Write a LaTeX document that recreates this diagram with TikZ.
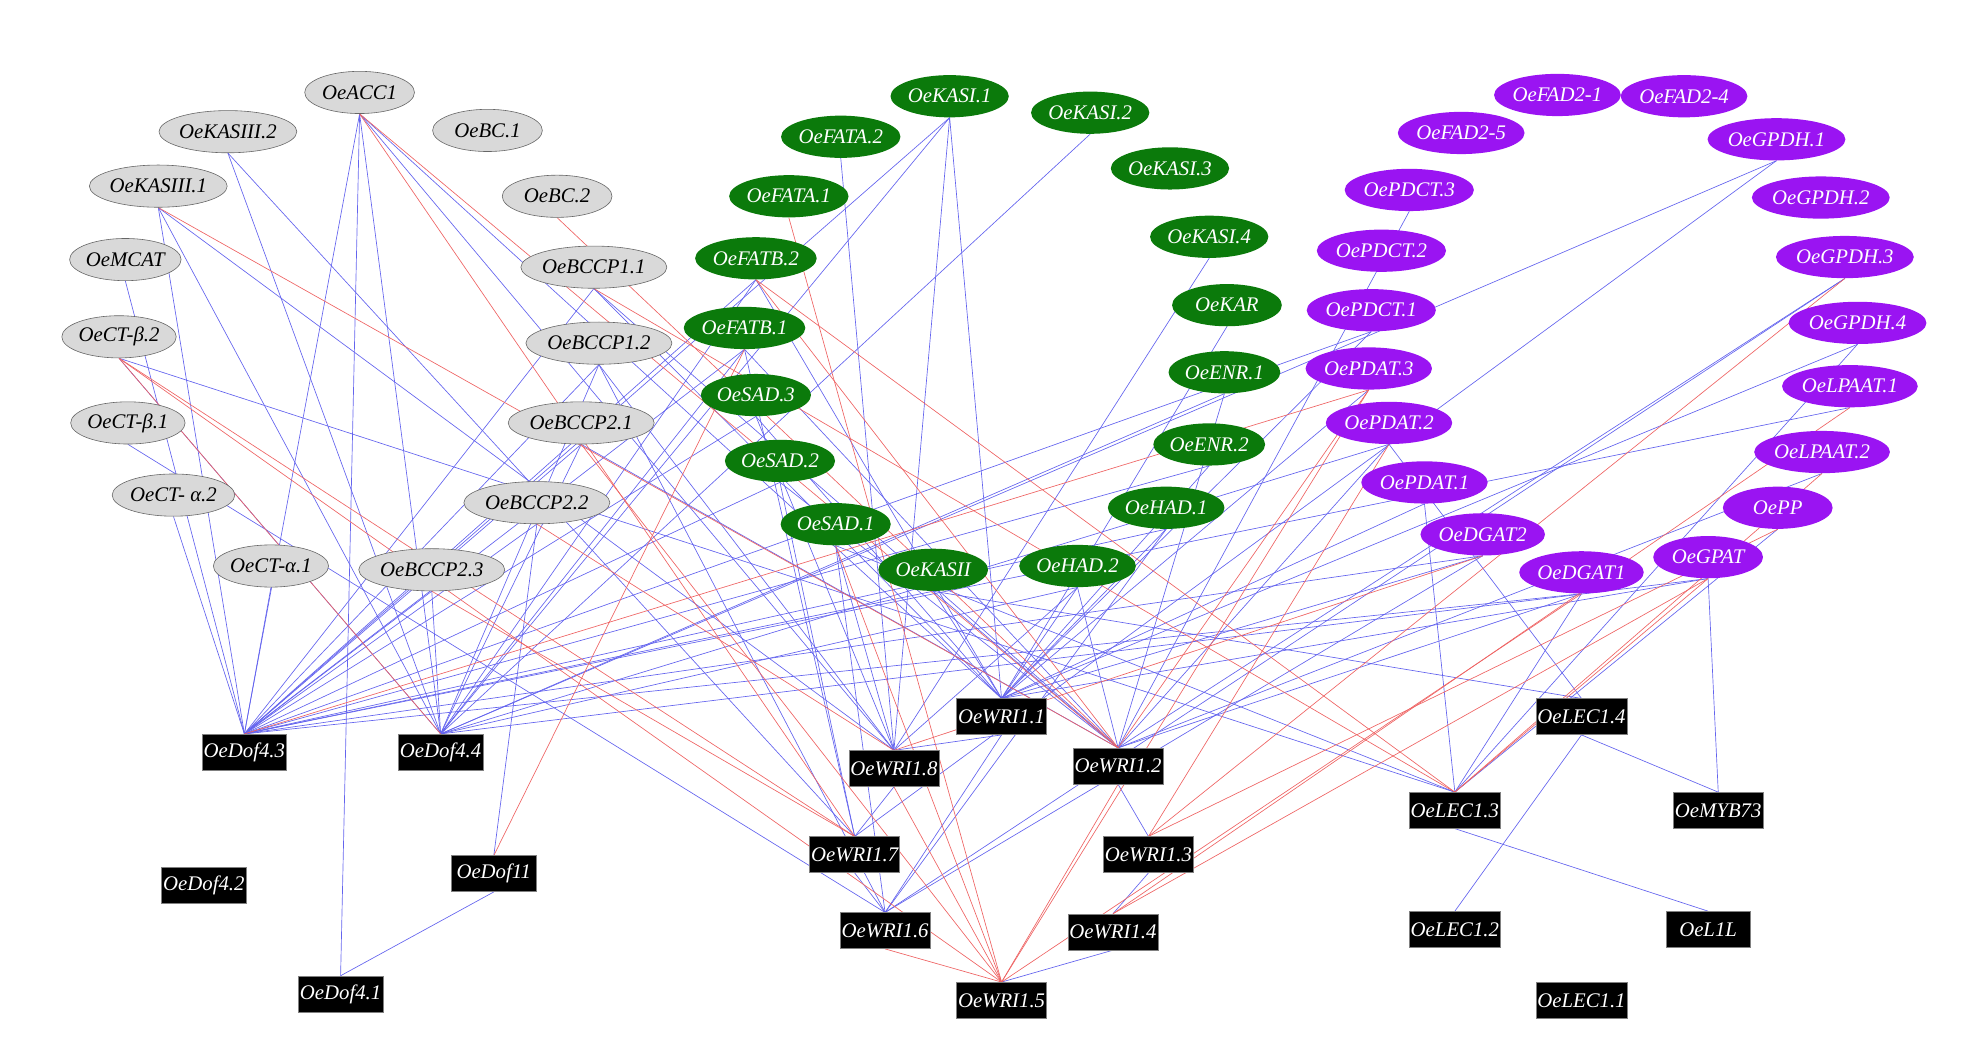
\documentclass[tikz,border=0pt]{standalone}
\usepackage{fontspec}
\setmainfont{Liberation Serif}
\usetikzlibrary{shapes.geometric,backgrounds}
\definecolor{gr}{HTML}{D9D9D9}
\definecolor{gn}{HTML}{0B7A0B}
\definecolor{pu}{HTML}{9A14F2}
\definecolor{eb}{HTML}{6464EE}
\definecolor{er}{HTML}{EE6464}
\begin{document}
\begin{tikzpicture}[x=0.03cm,y=-0.03cm,
 g/.style={ellipse,draw=gray!80!black,fill=gr,minimum width=2.6cm,minimum height=1.0cm,inner sep=0pt,font=\fontsize{14}{16}\selectfont\itshape},
 G/.style={ellipse,fill=gn,minimum width=2.6cm,minimum height=1.0cm,inner sep=0pt,text=white,font=\fontsize{14}{16}\selectfont\itshape},
 P/.style={ellipse,fill=pu,minimum width=2.6cm,minimum height=1.0cm,inner sep=0pt,text=white,font=\fontsize{14}{16}\selectfont\itshape},
 T/.style={rectangle,fill=black,draw=gray,minimum width=2.0cm,minimum height=0.85cm,inner sep=1pt,text=white,font=\fontsize{14}{16}\selectfont\itshape},
 b/.style={eb,line width=0.45pt},
 r/.style={er,line width=0.45pt}]
\useasboundingbox (0,0) rectangle (1559,826);
% grey
\node[g] (ACC) at (284,73) {OeACC1};
\node[g] (K3b) at (180,104) {OeKASIII.2};
\node[g] (BCa) at (385,103) {OeBC.1};
\node[g] (K3a) at (125,147) {OeKASIII.1};
\node[g] (BCb) at (440,155) {OeBC.2};
\node[g] (MCAT) at (99,205) {OeMCAT};
\node[g] (B11) at (469,211) {OeBCCP1.1};
\node[g] (CTb2) at (94,266) {OeCT-β.2};
\node[g] (B12) at (473,271) {OeBCCP1.2};
\node[g] (CTb1) at (101,334) {OeCT-β.1};
\node[g] (B21) at (459,334) {OeBCCP2.1};
\node[g] (CTa2) at (137,391) {OeCT- α.2};
\node[g] (B22) at (424,397) {OeBCCP2.2};
\node[g] (CTa1) at (214,447) {OeCT-α.1};
\node[g] (B23) at (341,450) {OeBCCP2.3};
% green
\node[G] (KIa) at (750,76) {OeKASI.1};
\node[G] (KIb) at (861,89) {OeKASI.2};
\node[G] (FAb) at (664,108) {OeFATA.2};
\node[G] (KIc) at (924,133) {OeKASI.3};
\node[G] (FAa) at (623,155) {OeFATA.1};
\node[G] (KId) at (955,187) {OeKASI.4};
\node[G] (FBb) at (597,204) {OeFATB.2};
\node[G] (KAR) at (969,241) {OeKAR};
\node[G] (FBa) at (588,259) {OeFATB.1};
\node[G] (ENa) at (967,294) {OeENR.1};
\node[G] (SAc) at (597,312) {OeSAD.3};
\node[G] (ENb) at (955,351) {OeENR.2};
\node[G] (SAb) at (616,364) {OeSAD.2};
\node[G] (HAa) at (921,401) {OeHAD.1};
\node[G] (SAa) at (660,414) {OeSAD.1};
\node[G] (KII) at (737,450) {OeKASII};
\node[G] (HAb) at (851,447) {OeHAD.2};
% purple
\node[P] (F21) at (1230,75) {OeFAD2-1};
\node[P] (F24) at (1330,76) {OeFAD2-4};
\node[P] (F25) at (1154,105) {OeFAD2-5};
\node[P] (GP1) at (1403,110) {OeGPDH.1};
\node[P] (GP2) at (1438,156) {OeGPDH.2};
\node[P] (PC3) at (1113,150) {OePDCT.3};
\node[P] (GP3) at (1457,203) {OeGPDH.3};
\node[P] (PC2) at (1091,198) {OePDCT.2};
\node[P] (PC1) at (1083,245) {OePDCT.1};
\node[P] (GP4) at (1467,255) {OeGPDH.4};
\node[P] (PA3) at (1081,291) {OePDAT.3};
\node[P] (LP1) at (1461,305) {OeLPAAT.1};
\node[P] (PA2) at (1097,334) {OePDAT.2};
\node[P] (LP2) at (1439,357) {OeLPAAT.2};
\node[P] (PA1) at (1125,381) {OePDAT.1};
\node[P] (PP) at (1404,401) {OePP};
\node[P] (DG2) at (1171,422) {OeDGAT2};
\node[P] (DG1) at (1249,452) {OeDGAT1};
\node[P] (GPAT) at (1349,440) {OeGPAT};
% TFs
\node[T] (D43) at (193,594) {OeDof4.3};
\node[T] (D44) at (348,594) {OeDof4.4};
\node[T] (D42) at (161,699) {OeDof4.2};
\node[T] (D11) at (390,690) {OeDof11};
\node[T] (D41) at (269,785) {OeDof4.1};
\node[T] (W1) at (791,566) {OeWRI1.1};
\node[T] (W8) at (706,607) {OeWRI1.8};
\node[T] (W2) at (883,605) {OeWRI1.2};
\node[T] (W7) at (675,675) {OeWRI1.7};
\node[T] (W3) at (907,675) {OeWRI1.3};
\node[T] (W6) at (699,735) {OeWRI1.6};
\node[T] (W4) at (879,736) {OeWRI1.4};
\node[T] (W5) at (791,790) {OeWRI1.5};
\node[T] (L4) at (1249,566) {OeLEC1.4};
\node[T] (L3) at (1149,640) {OeLEC1.3};
\node[T] (MYB) at (1357,640) {OeMYB73};
\node[T] (L2) at (1149,734) {OeLEC1.2};
\node[T] (L1L) at (1349,734) {OeL1L};
\node[T] (L1) at (1249,790) {OeLEC1.1};
\begin{pgfonlayer}{background}
\foreach \a/\c in {ACC/D43,ACC/D44,ACC/D41,ACC/W8,ACC/W1,K3b/D44,K3b/W7,K3a/D43,K3a/D44,K3a/W8,MCAT/D43,CTb2/L3,CTb2/D44,CTb1/W6,CTa2/D43,CTa1/D43,
 B11/W1,B11/W2,B11/D43,B12/W8,B12/W6,B12/D44,B12/D43,B21/D43,B21/D44,B21/W2,B22/D11,B22/D43,B23/D44,B23/D43,
 KIa/D43,KIa/D44,KIa/W1,KIa/W8,KIb/D44,FAb/W8,FBb/D43,FBb/D44,FBb/W1,FBa/D43,FBa/D44,FBa/W2,FBa/W7,SAc/D43,SAc/W1,SAc/W8,
 SAb/W2,SAb/W7,SAb/D43,SAa/W8,SAa/W6,SAa/L3,KII/W1,KII/W2,KII/L4,KII/D43,HAb/W1,HAb/W8,HAb/D44,HAb/W2,HAa/W1,HAa/W6,HAa/D43,
 ENb/W1,ENb/D43,ENa/W2,ENa/D44,KAR/W1,KId/W8,PC3/W2,PC1/W1,PC1/D43,PA3/W1,PA2/W2,PA2/L4,PA2/D44,PA1/L3,PA1/W1,
 DG2/W1,DG2/W6,DG2/D43,DG1/W2,DG1/L3,DG1/D43,GPAT/W1,GPAT/D44,GPAT/MYB,PP/L3,LP2/W2,LP1/D43,GP4/W1,GP4/L3,GP3/W6,GP3/W2,GP1/D44,GP1/W7,
 L3/L1L,L4/L2,L4/MYB,D11/D41,W7/W6,W8/W7,W1/W8,W1/W6,W2/W3,W3/W4,W4/W5}
 \draw[b] (\a.south) -- (\c.north);
\foreach \a/\c in {ACC/W2,ACC/W7,K3a/W2,CTb2/W7,CTb2/W5,CTb2/D44,BCb/W2,B11/L3,B21/W5,B22/W8,B23/W7,FAa/W5,FBb/W2,FBb/L3,FBa/D11,SAa/W5,
 PA3/W2,PA3/W5,PA3/D43,PA2/W3,DG2/W8,DG1/W5,GPAT/L3,GPAT/W4,PP/W3,LP2/L3,LP1/W4,GP3/W3,W2/W5,W6/W5,W8/W5}
 \draw[r] (\a.south) -- (\c.north);
\end{pgfonlayer}
\end{tikzpicture}
\end{document}
